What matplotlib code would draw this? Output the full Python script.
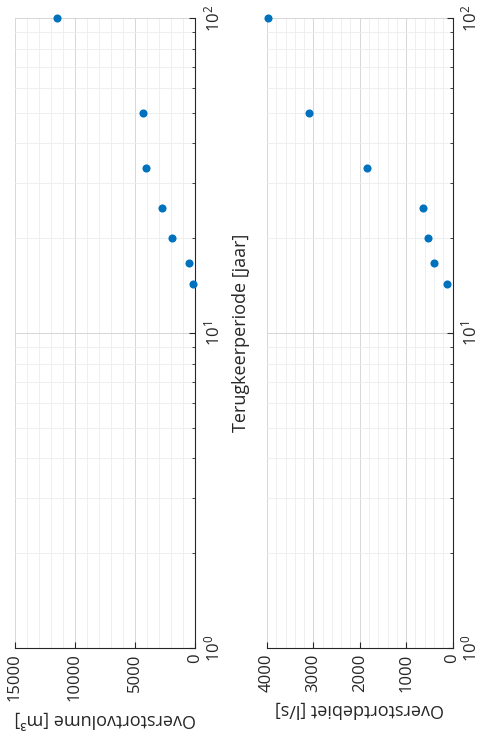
import matplotlib
matplotlib.use("Agg")
import matplotlib.pyplot as plt
from matplotlib.ticker import MultipleLocator, LogLocator, NullFormatter

plt.rcParams['font.family'] = ['Open Sans', 'DejaVu Sans']
plt.rcParams['mathtext.default'] = 'regular'

# Data (return period in years, values)
periods = [100, 50, 33.3, 25, 20, 16.7, 14.3]
volume = [11480, 4360, 4080, 2750, 1940, 500, 190]        # m3
debiet = [3980, 3090, 1840, 640, 535, 390, 120]            # l/s

vol_ticks = [0, 5000, 10000, 15000]
deb_ticks = [0, 1000, 2000, 3000, 4000]

blue = '#0072BD'
txt = '#262626'

fig = plt.figure(figsize=(4.92, 7.44), dpi=100)
H = 744.0
W = 492.0
ax1 = fig.add_axes([15 / W, (H - 648) / H, 180 / W, 630 / H])
ax2 = fig.add_axes([267 / W, (H - 648) / H, 185.5 / W, 630 / H])

def style(ax, vals, ticks, xmax, minor_step, xlabel):
    ax.scatter(vals, periods, s=34, color=blue, zorder=3, clip_on=False,
               linewidths=0)
    ax.set_yscale('log')
    ax.set_ylim(1, 100)
    ax.set_xlim(xmax, 0)
    ax.set_xticks(ticks)
    ax.set_xticklabels([str(t) for t in ticks])
    ax.xaxis.set_minor_locator(MultipleLocator(minor_step))
    ax.yaxis.set_major_locator(LogLocator(base=10, numticks=10))
    ax.yaxis.set_minor_locator(LogLocator(base=10, subs=range(2, 10), numticks=20))
    ax.yaxis.set_minor_formatter(NullFormatter())
    ax.yaxis.tick_right()
    for side in ['left', 'top']:
        ax.spines[side].set_visible(False)
    for side in ['right', 'bottom']:
        ax.spines[side].set_color(txt)
        ax.spines[side].set_linewidth(0.8)
    ax.tick_params(axis='both', which='major', direction='in', length=4.5,
                   width=0.8, color=txt, labelcolor=txt, labelsize=12)
    ax.tick_params(axis='y', which='minor', direction='in', length=2.5,
                   width=0.6, color=txt)
    ax.tick_params(axis='x', which='minor', length=0)
    ax.tick_params(axis='x', labelrotation=90, pad=4)
    ax.tick_params(axis='y', labelrotation=90, pad=6)
    for lab in ax.get_yticklabels():
        lab.set_va('center')
    ax.grid(True, which='major', color='#d6d6d6', linewidth=0.7)
    ax.grid(True, which='minor', color='#ececec', linewidth=0.6)
    ax.set_axisbelow(True)
    ax.set_xlabel(xlabel, rotation=180, fontsize=13, color=txt, labelpad=6)

style(ax1, volume, vol_ticks, 15000, 1000, 'Overstortvolume [m³]')
style(ax2, debiet, deb_ticks, 4000, 200, 'Overstortdebiet [l/s]')

ax1.yaxis.set_label_position('right')
ax1.set_ylabel('Terugkeerperiode [jaar]', rotation=90, fontsize=13,
               color=txt, labelpad=6)

fig.savefig('out.png', dpi=100)
